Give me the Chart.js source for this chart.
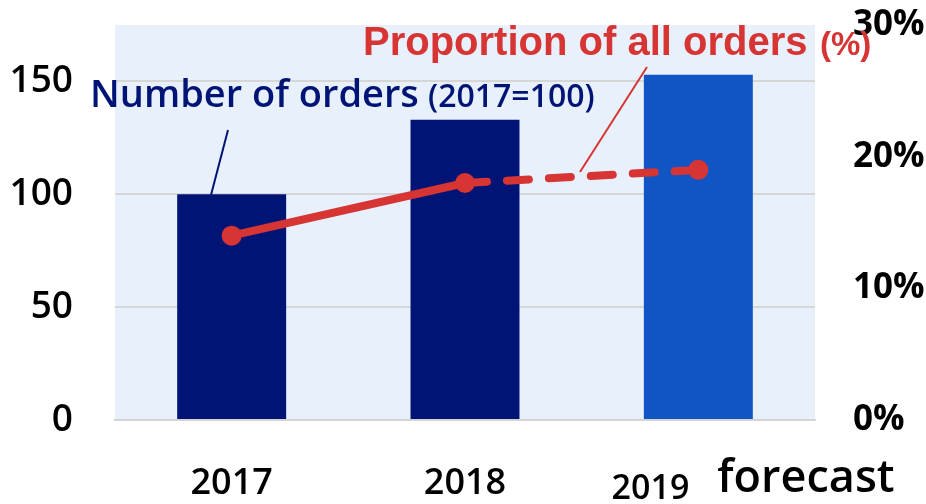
<!DOCTYPE html>
<html>
<head>
<meta charset="utf-8">
<script src="https://cdn.jsdelivr.net/npm/chart.js@4/dist/chart.umd.min.js"></script>
<style>
  html, body { margin: 0; padding: 0; background: #fff; }
</style>
</head>
<body>
<canvas id="chart" width="926" height="504"></canvas>
<script>
// data
const years       = ["2017", "2018", "2019"];
const orderIndex  = [100, 133, 153];   // number of orders, 2017 = 100
const orderShare  = [14, 18, 19];      // proportion of all orders, %
const leftTicks   = [0, 50, 100, 150];
const rightTicks  = [0, 10, 20, 30];
const forecastIdx = 2;

const NAVY = "#001476";
const BLUE = "#1155C5";
const RED  = "#D73434";
const TICK_FONT = "'Open Sans', 'Noto Sans', sans-serif";

// fixed box sizes, no extra label overflow padding
function fixBox(w, h) {
  return s => {
    if (w != null) s.width = w;
    if (h != null) s.height = h;
    s.paddingTop = s.paddingBottom = s.paddingLeft = s.paddingRight = 0;
  };
}

// plot background + annotation texts
const decor = {
  id: "decor",
  beforeDraw(chart) {
    const { ctx, chartArea: a } = chart;
    ctx.save();
    ctx.fillStyle = "#E8F0FB";
    ctx.fillRect(a.left, a.top, a.right - a.left, a.bottom - a.top);
    ctx.restore();
  },
  afterDraw(chart) {
    const { ctx } = chart;
    const x = chart.scales.x;
    ctx.save();

    // leader lines
    ctx.lineWidth = 2;
    ctx.strokeStyle = NAVY;
    ctx.beginPath();
    ctx.moveTo(228, 130);
    ctx.lineTo(211, 195);
    ctx.stroke();
    ctx.strokeStyle = RED;
    ctx.beginPath();
    ctx.moveTo(647, 67);
    ctx.lineTo(580, 172);
    ctx.stroke();

    // series labels
    ctx.textBaseline = "alphabetic";
    ctx.textAlign = "left";
    ctx.fillStyle = NAVY;
    ctx.font = "600 38px " + TICK_FONT;
    ctx.fillText("Number of orders", 90, 107);
    ctx.font = "600 32px " + TICK_FONT;
    ctx.fillText("(2017=100)", 428, 107);

    ctx.fillStyle = RED;
    ctx.font = "bold 40px 'Liberation Sans', Arial, sans-serif";
    ctx.fillText("Proportion of all orders", 363, 55);
    ctx.font = "bold 33px 'Liberation Sans', Arial, sans-serif";
    ctx.fillText("(%)", 820, 55);

    // forecast category label
    const cx = x.getPixelForValue(forecastIdx);
    ctx.fillStyle = "#000";
    ctx.font = "600 34px " + TICK_FONT;
    ctx.textAlign = "right";
    ctx.fillText(years[forecastIdx], cx - 9, 499);
    ctx.textAlign = "left";
    ctx.font = "600 45px " + TICK_FONT;
    ctx.fillText("forecast", cx + 19, 492);
    ctx.restore();
  }
};

new Chart(document.getElementById("chart"), {
  data: {
    labels: years,
    datasets: [
      {
        type: "line",
        label: "Proportion of all orders (%)",
        data: orderShare,
        yAxisID: "y2",
        borderColor: RED,
        backgroundColor: RED,
        borderWidth: 8,
        borderCapStyle: "round",
        pointRadius: 10,
        pointHoverRadius: 10,
        pointBackgroundColor: RED,
        pointBorderWidth: 0,
        segment: {
          borderDash: c => c.p0DataIndex >= 1 ? [22, 20] : undefined
        },
        order: 0
      },
      {
        type: "bar",
        label: "Number of orders (2017=100)",
        data: orderIndex,
        yAxisID: "y",
        backgroundColor: years.map((_, i) => i === forecastIdx ? BLUE : NAVY),
        borderWidth: 0,
        barPercentage: 0.467,
        categoryPercentage: 1,
        order: 1
      }
    ]
  },
  options: {
    responsive: false,
    animation: false,
    layout: { padding: { top: 25, left: 0, right: 0, bottom: 0 } },
    plugins: { legend: { display: false }, tooltip: { enabled: false } },
    scales: {
      x: {
        afterFit: fixBox(null, 84),
        grid: { display: false },
        border: { display: true, color: "#D4D4D4", width: 2 },
        ticks: {
          color: "#000",
          padding: 34,
          font: { family: TICK_FONT, size: 36, weight: "600" },
          callback: (v, i) => i === forecastIdx ? "" : years[i]
        }
      },
      y: {
        position: "left",
        min: 0,
        max: 175,
        afterFit: fixBox(115, null),
        afterBuildTicks: s => { s.ticks = leftTicks.map(v => ({ value: v })); },
        grid: { color: "#D6D6D6", lineWidth: 2, drawTicks: false },
        border: { display: false },
        ticks: {
          color: "#000",
          padding: 42,
          font: { family: TICK_FONT, size: 37, weight: "600" }
        }
      },
      y2: {
        position: "right",
        min: 0,
        max: 30,
        afterFit: fixBox(111, null),
        afterBuildTicks: s => { s.ticks = rightTicks.map(v => ({ value: v })); },
        grid: { display: false, drawTicks: false },
        border: { display: false },
        ticks: {
          color: "#000",
          padding: 38,
          font: { family: TICK_FONT, size: 35, weight: "700" },
          callback: v => v + "%"
        }
      }
    }
  },
  plugins: [decor]
});
</script>
</body>
</html>
